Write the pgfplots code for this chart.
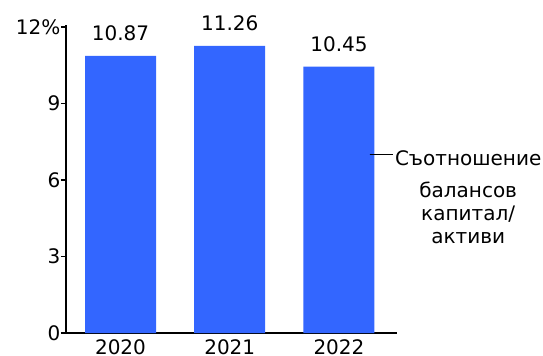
\documentclass[border=0pt]{standalone}
\usepackage{pgfplots}
\pgfplotsset{compat=1.18}
\usepackage{fontspec}
\setmainfont{DejaVu Sans}
\definecolor{barblue}{HTML}{3366FF}
\begin{document}
\fontsize{20bp}{23bp}\selectfont
\begin{tikzpicture}
\useasboundingbox (-66bp,-23bp) rectangle (477bp,333bp);
\begin{axis}[
  at={(0,0)}, anchor=south west,
  scale only axis,
  width=329bp, height=306bp,
  xmin=-0.499, xmax=2.513,
  ymin=0, ymax=12,
  axis x line=bottom, axis y line=left,
  axis line style={black, line width=1.6bp, -, shorten >=-2bp},
  xtick=data, xticklabels={2020,2021,2022},
  x tick style={draw=none},
  ytick={0,3,6,9,12}, yticklabels={0,3,6,9,12\%},
  y tick style={black, line width=1.2bp},
  tick align=outside,
  major tick length=5bp,
  ticklabel style={font=\fontsize{20bp}{24bp}\selectfont},
  y tick label style={inner sep=0.5bp},
  x tick label style={inner sep=1bp},
  /pgf/number format/assume math mode=true,
  clip=false,
  nodes near coords,
  nodes near coords style={font=\fontsize{20bp}{24bp}\selectfont, anchor=south, yshift=8bp, /pgf/number format/.cd, fixed, precision=2, fixed zerofill},
  legend style={at={(rel axis cs:0.921,0.608)}, anchor=north west, draw=none, fill=none, inner sep=0pt,
    font=\fontsize{20bp}{23bp}\selectfont, legend cell align=left},
  legend image code/.code={\draw[black, line width=0.8bp] (0bp,0.22em) -- (23bp,0.22em);},
]
\addplot[ybar, bar width=0.65, fill=barblue, draw=none] coordinates {(0,10.87) (1,11.26) (2,10.45)};
\addlegendentry{\begin{tabular}[t]{@{}c@{}}Съотношение\\[9.5bp] балансов\\ капитал/\\ активи\end{tabular}}
\end{axis}
\end{tikzpicture}
\end{document}
